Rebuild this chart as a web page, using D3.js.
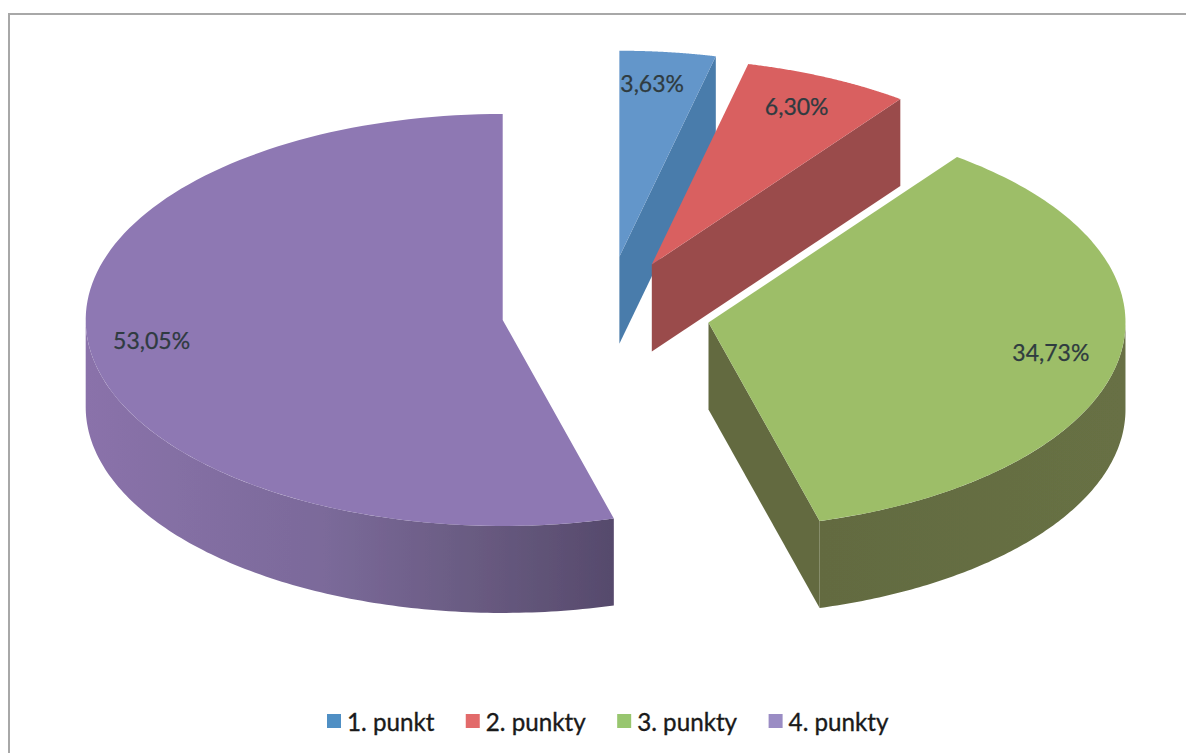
<!DOCTYPE html>
<html><head><meta charset="utf-8">
<script src="https://cdn.jsdelivr.net/npm/d3@7"></script>
<style>html,body{margin:0;padding:0;background:#fff}svg{display:block}</style>
</head><body><div id="c"></div>
<script>
const categories = ["1. punkt", "2. punkty", "3. punkty", "4. punkty"];
const values = [3.63, 6.30, 34.73, 53.05];
const labels = ["3,63%", "6,30%", "34,73%", "53,05%"];
const topColors = ["#6496ca", "#d96060", "#9dbe68", "#8e78b3"];
const legendColors = ["#4f8fc4", "#e26a6a", "#98c66f", "#9a8cc4"];
const sideStops = [
  [["0%", "#4a7cab"], ["100%", "#4a7cab"]],
  [["0%", "#9a4b4b"], ["100%", "#9a4b4b"]],
  [["0%", "#636b41"], ["100%", "#677044"]],
  [["0%", "#8a72aa"], ["45%", "#7b6a9a"], ["75%", "#685a80"], ["100%", "#564a6c"]]
];
const explode = [0.275, 0.26, 0.25, 0.25];
const labelNudge = [[-8, -2], [-3, -2], [-2, -2], [-4, -3]];

const W = 1186, H = 753;
const cx = 606, cy = 313, rx = 417, ry = 206, depth = 87, labelR = 0.84;
const svg = d3.select("#c").append("svg").attr("width", W).attr("height", H);
const defs = svg.append("defs");
defs.append("filter").attr("id", "soft").append("feGaussianBlur").attr("stdDeviation", 0.6);

// Frame of the scanned page
const frame = svg.append("g").attr("filter", "url(#soft)");
frame.append("path").attr("d", d3.line()([[9, H], [9, 14], [W, 14]]))
  .attr("fill", "none").attr("stroke", "#a8a8a8").attr("stroke-width", 2);

const pie = d3.pie().sort(null).value(d => d).startAngle(0).endAngle(2 * Math.PI);
const arcs = pie(values);
const px = (o, a, f = 1, dz = 0) => [o[0] + rx * f * Math.sin(a), o[1] - ry * f * Math.cos(a) + dz];
const line = d3.line();

const slices = arcs.map((d, i) => {
  const a0 = d.startAngle, a1 = d.endAngle, mid = (a0 + a1) / 2;
  const origin = [cx + rx * explode[i] * Math.sin(mid), cy - ry * explode[i] * Math.cos(mid)];
  return {i, a0, a1, mid, origin};
});
const steps = (a, b) => d3.range(0, 121).map(k => a + (b - a) * k / 120);

slices.forEach(s => {
  const g = defs.append("linearGradient").attr("id", "side" + s.i)
    .attr("gradientUnits", "userSpaceOnUse")
    .attr("x1", px(s.origin, -Math.PI / 2)[0]).attr("x2", px(s.origin, Math.PI / 2)[0])
    .attr("y1", 0).attr("y2", 0);
  if (s.i === 3) g.attr("x2", px(s.origin, s.a0)[0]);
  if (s.i === 2) g.attr("x1", px(s.origin, s.a1)[0]);
  g.selectAll("stop").data(sideStops[s.i]).join("stop")
    .attr("offset", d => d[0]).attr("stop-color", d => d[1]);
});

const marks = svg.append("g").attr("filter", "url(#soft)");
const sliceG = marks.selectAll("g").data(slices).join("g");

// cut faces
sliceG.each(function (s) {
  const g = d3.select(this), bottom = [s.origin[0], s.origin[1] + depth];
  const cut = a => [s.origin, px(s.origin, a), px(s.origin, a, 1, depth), bottom];
  if (s.a1 > 0 && s.a1 < Math.PI)
    g.append("path").attr("d", line(cut(s.a1)) + "Z").attr("fill", sideStops[s.i][0][1]);
  if (s.a0 > Math.PI && s.a0 < 2 * Math.PI)
    g.append("path").attr("d", line(cut(s.a0)) + "Z").attr("fill", sideStops[s.i][0][1]);
  // outer wall: only the part of the rim turned to the viewer
  const a = Math.max(s.a0, Math.PI / 2), b = Math.min(s.a1, 3 * Math.PI / 2);
  if (a < b) {
    const upper = steps(a, b).map(t => px(s.origin, t));
    const lower = steps(b, a).map(t => px(s.origin, t, 1, depth));
    g.append("path").attr("d", line(upper.concat(lower)) + "Z").attr("fill", `url(#side${s.i})`);
  }
  // top face
  const rim = steps(s.a0, s.a1).map(t => px(s.origin, t));
  g.append("path").attr("d", line([s.origin, ...rim]) + "Z").attr("fill", topColors[s.i]);
});

// value labels
const labelOf = s => {
  const p = px(s.origin, s.mid, labelR);
  return [p[0] + labelNudge[s.i][0], p[1] + labelNudge[s.i][1]];
};
svg.append("g").selectAll("text").data(slices).join("text")
  .attr("x", s => labelOf(s)[0]).attr("y", s => labelOf(s)[1])
  .attr("text-anchor", "middle").attr("dominant-baseline", "central")
  .attr("font-family", "Lato, 'Open Sans', sans-serif").attr("font-size", 23)
  .attr("fill", "#2f3b40").attr("stroke", "#2f3b40").attr("stroke-width", 0.25)
  .text(s => labels[s.i]);

// legend
const legendY = 721, swatch = 14, gapText = 6, gapItem = 31;
const legend = svg.append("g");
const items = legend.selectAll("g").data(categories).join("g");
items.append("rect").attr("width", swatch).attr("height", swatch)
  .attr("y", -swatch / 2).attr("fill", (d, i) => legendColors[i]);
items.append("text").attr("x", swatch + gapText)
  .attr("dominant-baseline", "central")
  .attr("font-family", "Lato, 'Open Sans', sans-serif").attr("font-size", 24.2)
  .attr("fill", "#1a1a1a").attr("stroke", "#1a1a1a").attr("stroke-width", 0.35)
  .text(d => d);
let x = 327;
items.each(function () {
  d3.select(this).attr("transform", `translate(${x},${legendY})`);
  x += this.getBBox().width + gapItem;
});
</script></body></html>
